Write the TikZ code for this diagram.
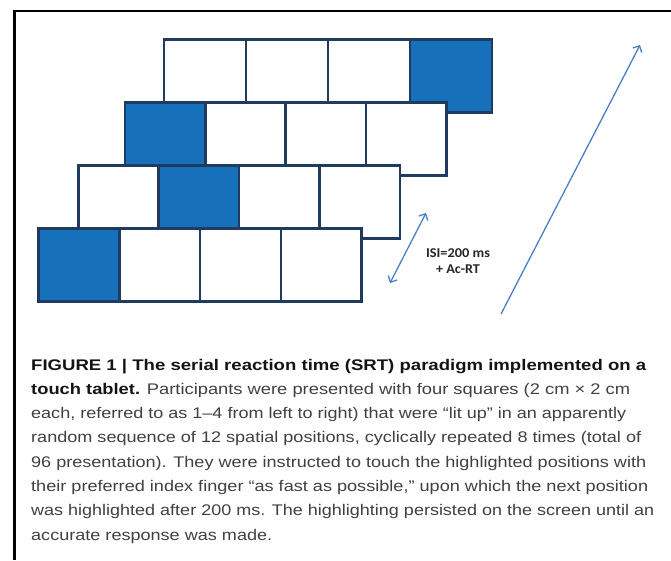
\documentclass[tikz,border=0pt]{standalone}
\usepackage{fontspec}
\usepackage{graphicx}
\setmainfont{Liberation Sans}
\newfontfamily\isifont{Carlito}
\usetikzlibrary{arrows.meta}
\definecolor{srtblue}{HTML}{1670BA}
\definecolor{srtnavy}{HTML}{1F3B60}
\definecolor{srtarrow}{HTML}{4A7FC6}

% stretch a line of text to a given width (in pt)
\newlength\fitw
\newcommand\fitto[2]{\settowidth\fitw{#2}\pgfmathsetmacro\fitsx{#1/\fitw}\scalebox{\fitsx}[1]{#2}}

\tikzset{
  sq/.style={draw=srtnavy, line width=2.6pt},
  seqarrow/.style={srtarrow, line width=1.3pt},
  barb/.tip={Straight Barb[length=5pt,width=10pt]},
  captxt/.style={inner sep=0pt, text=black!75, font=\fontsize{15.4}{18}\selectfont},
}

\begin{document}
\begin{tikzpicture}[x=1pt,y=-1pt]
  \useasboundingbox (0,0) rectangle (671,560);

  %frame
  \draw[line width=3pt] (14,560) -- (14,9.5);
  \draw[line width=2pt] (12.5,10.5) -- (671,10.5);

  %rows of squares, back to front
  \def\h{73};
  \foreach \xo/\yo/\w/\cols in {164/39.5/82/{white,white,white,srtblue},
                               125/102.7/80.3/{srtblue,white,white,white},
                               78.3/165.3/80.4/{white,srtblue,white,white},
                               38.5/228.5/80.8/{srtblue,white,white,white}}{
      \foreach \c [count=\i from 0] in \cols {
          \draw[sq, fill=\c] (\xo+\i*\w, \yo) rectangle +(\w,\h);
      }
  }

  %interval arrow and label
  \coordinate (isiA) at (390,283);
  \coordinate (isiB) at (426,213);
  \draw[seqarrow, barb-barb] (isiA) -- (isiB);
  \node[align=center, inner sep=0pt, text=black!85, font=\isifont\bfseries\fontsize{13.5}{16.6}\selectfont, anchor=north] (isi) at (458,248) {\fitto{64}{ISI=200 ms}\\\fitto{44}{+ Ac-RT}};

  %sequence arrow
  \coordinate (seqS) at (501,314);
  \coordinate (seqE) at (640,45);
  \draw[seqarrow, -barb] (seqS) -- (seqE);

  %caption
  \foreach \txt/\tw [count=\k] in {{\textcolor{black!92}{\bfseries FIGURE 1 | The serial reaction time (SRT) paradigm implemented on a}}/615,
      {\textcolor{black!92}{\bfseries touch tablet.} Participants were presented with four squares (2 cm × 2 cm}/599,
      {each, referred to as 1–4 from left to right) that were “lit up” in an apparently}/595,
      {random sequence of 12 spatial positions, cyclically repeated 8 times (total of}/610,
      {96 presentation). They were instructed to touch the highlighted positions with}/615,
      {their preferred index finger “as fast as possible,” upon which the next position}/617,
      {was highlighted after 200 ms. The highlighting persisted on the screen until an}/623,
      {accurate response was made.}/241}{
      \node[captxt, anchor=base west] (cap\k) at (31,370+\k*24.3-24.3) {\fitto{\tw}{\txt}};
  }
\end{tikzpicture}
\end{document}
